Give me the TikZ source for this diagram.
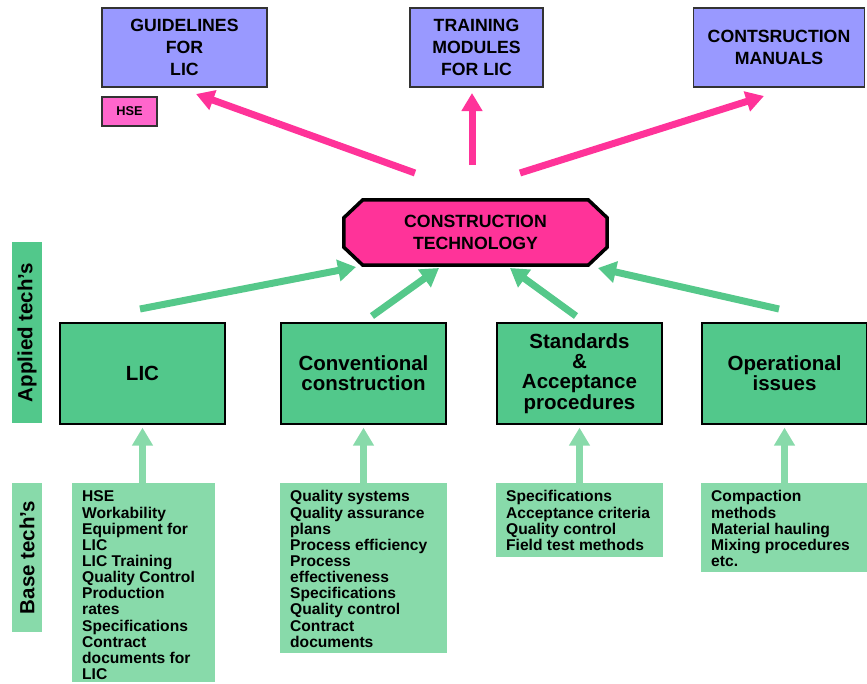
\documentclass[tikz,border=0pt]{standalone}
\usepackage{fontspec}
\setmainfont{Liberation Sans}
\usetikzlibrary{arrows.meta,backgrounds}

\definecolor{topblue}{HTML}{9999FF}
\definecolor{hotpink}{HTML}{FF3399}
\definecolor{hsepink}{HTML}{FF66CC}
\definecolor{techgreen}{HTML}{52C88B}
\definecolor{basegreen}{HTML}{88DAAA}
\definecolor{arrowgreen}{HTML}{55C88A}

\tikzset{
  outbox/.style={draw=black!80, line width=1.2pt, fill=topblue, align=center,
    font=\bfseries\fontsize{17.7}{21.7}\selectfont, inner sep=0pt},
  techbox/.style={draw=black, line width=1.3pt, fill=techgreen, align=center,
    minimum width=165pt, minimum height=101pt, inner sep=0pt,
    font=\bfseries\fontsize{20.5}{20.2}\selectfont},
  listbox/.style={fill=basegreen, anchor=north west, inner sep=0pt},
  listtext/.style={anchor=north west, inner sep=0pt, align=left,
    font=\bfseries\fontsize{15.6}{16.1}\selectfont},
  sidelabel/.style={rotate=90, minimum height=30pt, inner sep=0pt,
    font=\bfseries\fontsize{20.5}{22}\selectfont},
  pinkarrow/.style={draw=hotpink, line width=7pt,
    -{Triangle[length=18pt,width=20pt]}},
  greenarrow/.style={draw=arrowgreen, line width=7pt,
    -{Triangle[length=18pt,width=21pt]}},
  uparrow/.style={draw=basegreen, line width=7pt,
    -{Triangle[length=18pt,width=20pt]}},
}

\begin{document}
\begin{tikzpicture}[x=1pt,y=-1pt]
\useasboundingbox (0,0) rectangle (867,683);

% outputs
\node[outbox, minimum width=165pt, minimum height=79pt] (guide) at (184.5,47.5) {GUIDELINES\\FOR\\LIC};
\node[outbox, minimum width=133pt, minimum height=79pt] (train) at (476.5,47.5) {TRAINING\\MODULES\\FOR LIC};
\node[outbox, minimum width=171pt, minimum height=79pt] (manual) at (779,47.5) {CONTSRUCTION\\MANUALS};
\node[draw=black!80, line width=1.2pt, fill=hsepink, minimum width=55pt, minimum height=29pt,
  inner sep=0pt, font=\bfseries\fontsize{12.8}{14}\selectfont] (hse) at (129.5,111.5) {HSE};

% central octagon
\node[minimum width=263pt, minimum height=65pt, inner sep=0pt, align=center,
  font=\bfseries\fontsize{17.7}{22}\selectfont] (ct) at (475.5,232.5) {CONSTRUCTION\\TECHNOLOGY};
\begin{scope}[on background layer]
  \draw[fill=hotpink, draw=black, line width=3.5pt, line join=miter]
    ([xshift=19pt]ct.north west) -- ([xshift=-19pt]ct.north east)
    -- ([yshift=-18pt]ct.north east) -- ([yshift=18pt]ct.south east)
    -- ([xshift=-19pt]ct.south east) -- ([xshift=19pt]ct.south west)
    -- ([yshift=18pt]ct.south west) -- ([yshift=-18pt]ct.north west) -- cycle;
\end{scope}

% applied technologies
\node[techbox] (lic) at (142.5,373.5) {LIC};
\node[techbox] (conv) at (363.5,373.5) {Conventional\\construction};
\node[techbox] (std) at (579.5,373.5) {Standards\\\&\\Acceptance\\procedures};
\node[techbox] (oper) at (784.5,373.5) {Operational\\issues};

% side labels
\node[sidelabel, fill=techgreen, minimum width=181pt] (applied) at (27,332.5) {Applied tech’s};
\node[sidelabel, fill=basegreen, minimum width=149pt] (base) at (27,557.5) {Base tech’s};

% base technologies
\node[listbox, minimum width=143pt, minimum height=199pt] (liclist) at (72,483) {};
\node[listtext] (lictext) at ([xshift=10pt,yshift=-6.7pt]liclist.north west)
  {\strut HSE\\Workability\\Equipment for\\LIC\\LIC Training\\Quality Control\\Production\\rates\\Specifications\\Contract\\documents for\\LIC};
\node[listbox, minimum width=167pt, minimum height=170pt] (convlist) at (280,483) {};
\node[listtext] (convtext) at ([xshift=10pt,yshift=-6.7pt]convlist.north west)
  {\strut Quality systems\\Quality assurance\\plans\\Process efficiency\\Process\\effectiveness\\Specifications\\Quality control\\Contract\\documents};
\node[listbox, minimum width=167pt, minimum height=74pt] (stdlist) at (496,483) {};
\node[listtext] (stdtext) at ([xshift=10pt,yshift=-6.7pt]stdlist.north west)
  {\strut Specifications\\Acceptance criteria\\Quality control\\Field test methods};
\node[listbox, minimum width=166pt, minimum height=89pt] (operlist) at (701,483) {};
\node[listtext] (opertext) at ([xshift=10pt,yshift=-6.7pt]operlist.north west)
  {\strut Compaction\\methods\\Material hauling\\Mixing procedures\\etc.};

% arrow ends
\coordinate (pl-s) at (415,173);  \coordinate (pl-e) at (196,94);
\coordinate (pm-s) at (472,165);  \coordinate (pm-e) at (472,93);
\coordinate (pr-s) at (520,173);  \coordinate (pr-e) at (764,96);
\coordinate (g1-s) at (140,309);  \coordinate (g1-e) at (356,267);
\coordinate (g2-s) at (372,316);  \coordinate (g2-e) at (439,268);
\coordinate (g3-s) at (576,316);  \coordinate (g3-e) at (510,268);
\coordinate (g4-s) at (779,309);  \coordinate (g4-e) at (598,268);

% outputs from the central node
\draw[pinkarrow] (pl-s) -- (pl-e);
\draw[pinkarrow] (pm-s) -- (pm-e);
\draw[pinkarrow] (pr-s) -- (pr-e);

% applied technologies feeding the central node
\draw[greenarrow] (g1-s) -- (g1-e);
\draw[greenarrow] (g2-s) -- (g2-e);
\draw[greenarrow] (g3-s) -- (g3-e);
\draw[greenarrow] (g4-s) -- (g4-e);

% base technologies feeding the applied ones
\draw[uparrow] ([yshift=-8pt]liclist.north -| lic.south) -- ([yshift=-3pt]lic.south);
\draw[uparrow] ([yshift=-8pt]convlist.north -| conv.south) -- ([yshift=-3pt]conv.south);
\draw[uparrow] ([yshift=-8pt]stdlist.north -| std.south) -- ([yshift=-3pt]std.south);
\draw[uparrow] ([yshift=-8pt]operlist.north -| oper.south) -- ([yshift=-3pt]oper.south);
\end{tikzpicture}
\end{document}
